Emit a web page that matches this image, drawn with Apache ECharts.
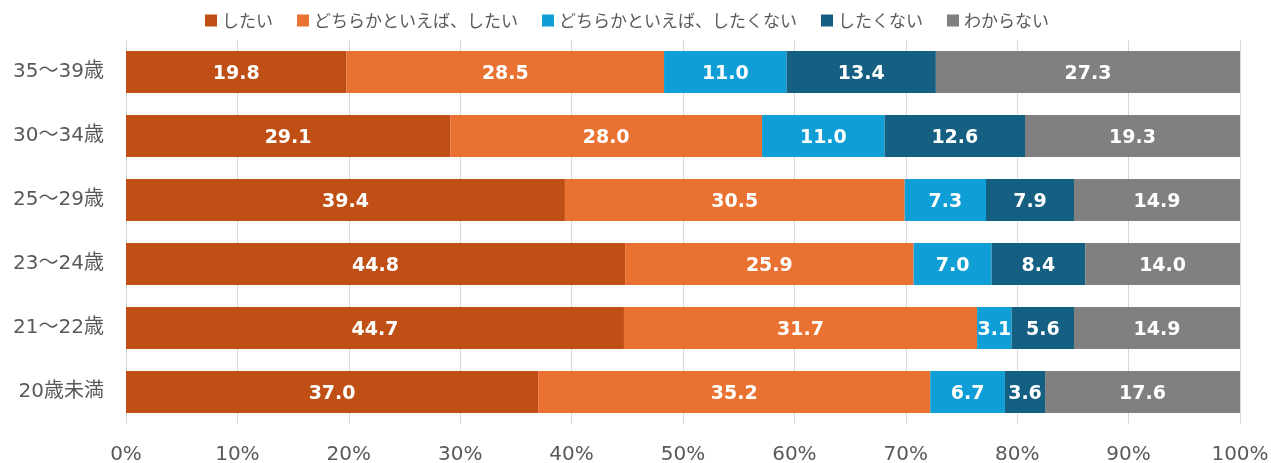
<!DOCTYPE html>
<html>
<head>
<meta charset="utf-8">
<script src="https://cdn.jsdelivr.net/npm/echarts@6/dist/echarts.min.js"></script>
<style>
  html, body { margin: 0; padding: 0; background: #fff; }
  #chart { width: 1271px; height: 463px; }
</style>
</head>
<body>
<div id="chart"></div>
<script>
// 年齢区分（下から上）
var categories = ['20歳未満', '21〜22歳', '23〜24歳', '25〜29歳', '30〜34歳', '35〜39歳']
var seriesNames = ['したい', 'どちらかといえば、したい', 'どちらかといえば、したくない', 'したくない', 'わからない']
var want = [37.0, 44.7, 44.8, 39.4, 29.1, 19.8]
var ratherWant = [35.2, 31.7, 25.9, 30.5, 28.0, 28.5]
var ratherNot = [6.7, 3.1, 7.0, 7.3, 11.0, 11.0]
var notWant = [3.6, 5.6, 8.4, 7.9, 12.6, 13.4]
var unknown = [17.6, 14.9, 14.0, 14.9, 19.3, 27.3]
var xTicks = [0, 10, 20, 30, 40, 50, 60, 70, 80, 90, 100]

var colors = ['#C04F15', '#E97132', '#0F9ED5', '#156082', '#808080']
var values = [want, ratherWant, ratherNot, notWant, unknown]
var font = 'DejaVu Sans, Noto Sans CJK JP'

var chart = echarts.init(document.getElementById('chart'))

var series = seriesNames.map(function (name, i) {
  return {
    name: name,
    type: 'bar',
    stack: 'total',
    barWidth: 42,
    itemStyle: { color: colors[i] },
    label: {
      show: true,
      color: '#fff',
      fontFamily: 'DejaVu Sans',
      fontWeight: 'bold',
      fontSize: 19,
      offset: [0, 2],
      formatter: function (p) { return p.value.toFixed(1) }
    },
    data: values[i]
  }
})

chart.setOption({
  animation: false,
  color: colors,
  legend: {
    top: 7,
    left: 200,
    itemWidth: 12,
    itemHeight: 12,
    itemGap: 24,
    icon: 'rect',
    textStyle: { color: '#595959', fontSize: 17, fontFamily: 'Noto Sans CJK JP' },
    data: seriesNames
  },
  grid: { left: 126, right: 31, top: 40, bottom: 39, outerBoundsMode: 'none' },
  xAxis: {
    type: 'value',
    min: 0,
    max: 100,
    interval: 10,
    axisLine: { show: false },
    axisTick: { show: false },
    splitLine: { lineStyle: { color: '#D9D9D9', width: 1 } },
    axisLabel: {
      color: '#595959',
      fontSize: 20,
      fontFamily: font,
      margin: 21,
      formatter: function (v) { return xTicks.indexOf(v) >= 0 ? v + '%' : '' }
    }
  },
  yAxis: {
    type: 'category',
    data: categories,
    axisLine: { show: false },
    axisTick: { show: false },
    axisLabel: { color: '#595959', fontSize: 20, fontFamily: font, margin: 22 }
  },
  series: series
})
</script>
</body>
</html>
